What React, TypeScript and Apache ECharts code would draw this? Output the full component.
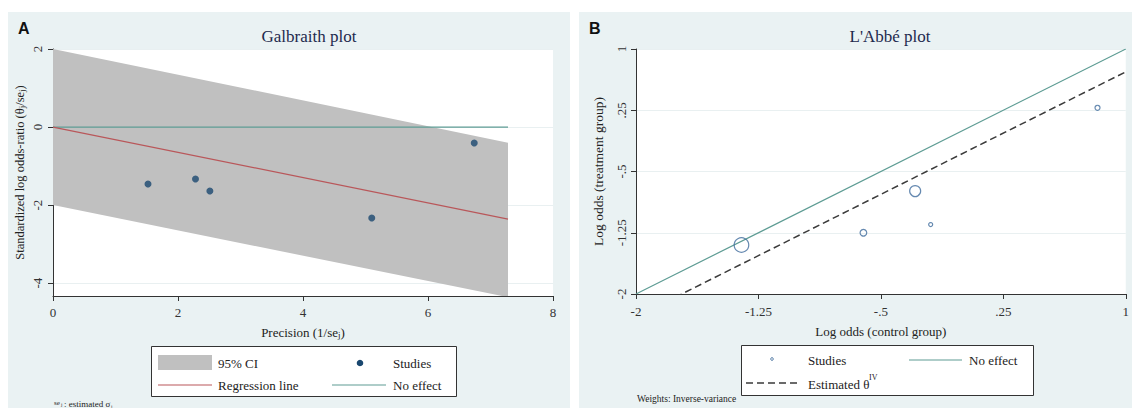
import React, { useEffect, useRef } from "react";
import * as echarts from "echarts";

// ---------- Galbraith plot data ----------
const galPrecision = [1.52, 2.28, 2.51, 5.1, 6.74];
const galStdLogOR = [-1.46, -1.33, -1.64, -2.33, -0.41];
const regLineX = [0, 7.28];
const regLineY = [0, -2.36];
const ciUpper = [2, -0.4];
const ciLower = [-2, -4.36];
const galNoEffectY = [0, 0];
const galYTicks = [-4, -2, 0, 2];

// ---------- L'Abbé plot data ----------
const controlLogOdds = [-1.354, -0.607, -0.29, -0.195, 0.827];
const treatLogOdds = [-1.4, -1.25, -0.74, -1.15, 0.28];
const studyWeights = [50.8, 10.6, 28.8, 3.8, 6.0];
const labbeLineX = [-2, 1];
const noEffectY = [-2, 1];
const estimatedY = [-2.28, 0.72];
const labbeTicks = [-2, -1.25, -0.5, 0.25, 1];

const SERIF = '"Liberation Serif", "DejaVu Serif", serif';
const SANS = '"Liberation Sans", Arial, sans-serif';
const NAVY = "#1a476f";
const TEAL = "#5e9c94";
const RED = "#b9575a";
const GRAYCI = "#c0c0c0";
const BG = "#eaf2f3";
const GRID = "#e9f0f1";

const stataFmt = (v: number) => {
  if (v === 0) return "0";
  let s = String(Math.round(v * 1000) / 1000);
  s = s.replace(/^(-?)0\./, "$1.");
  return s;
};

const axisCommon = {
  axisLine: { show: true, onZero: false, lineStyle: { color: "#333", width: 1 } },
  axisTick: { show: true, inside: false, length: 5, lineStyle: { color: "#333" } },
  splitLine: { show: false },
  nameLocation: "middle" as const,
};

export default function App() {
  const ref = useRef<HTMLDivElement>(null);
  useEffect(() => {
    if (!ref.current) return;
    const chart = echarts.init(ref.current, undefined, { renderer: "svg" });
    const labelStyle = { fontFamily: SERIF, fontSize: 13, color: "#333" };
    const nameStyle = {
      fontFamily: SERIF,
      fontSize: 13,
      color: "#222",
      rich: { sub: { fontFamily: SERIF, fontSize: 9, color: "#222", verticalAlign: "bottom", padding: [4, 0, 0, 0] } },
    };
    const gridSplit = { show: true, lineStyle: { color: GRID, width: 1 } };
    const option: any = {
      animation: false,
      backgroundColor: "#fff",
      title: [
        { text: "Galbraith plot", left: 304, top: 23, textAlign: "center", textStyle: { fontFamily: SERIF, fontSize: 17, fontWeight: "normal", color: "#1e2a4e" } },
        { text: "L'Abbé plot", left: 885, top: 23, textAlign: "center", textStyle: { fontFamily: SERIF, fontSize: 17, fontWeight: "normal", color: "#1e2a4e" } },
      ],
      grid: [
        { left: 53, top: 49, width: 500, height: 247, show: true, backgroundColor: "#fff", borderWidth: 0 },
        { left: 636, top: 49, width: 501, height: 245, show: true, backgroundColor: "#fff", borderWidth: 0 },
      ],
      xAxis: [
        {
          ...axisCommon,
          type: "value",
          gridIndex: 0,
          min: 0,
          max: 8,
          interval: 2,
          axisLabel: { ...labelStyle, margin: 10, formatter: stataFmt },
          name: "Precision (1/se{sub|j})",
          nameGap: 30,
          nameTextStyle: nameStyle,
        },
        {
          ...axisCommon,
          type: "value",
          gridIndex: 1,
          min: -2,
          max: 1,
          axisLabel: { ...labelStyle, margin: 11, formatter: stataFmt, customValues: labbeTicks },
          axisTick: { ...axisCommon.axisTick, customValues: labbeTicks },
          name: "Log odds (control group)",
          nameGap: 31,
          nameTextStyle: { ...nameStyle, fontSize: 13 },
        },
      ],
      yAxis: [
        {
          ...axisCommon,
          type: "value",
          gridIndex: 0,
          min: -4.33,
          max: 2,
          axisLabel: { ...labelStyle, margin: 9, rotate: 90, formatter: stataFmt, customValues: galYTicks },
          axisTick: { ...axisCommon.axisTick, customValues: galYTicks },
          splitLine: gridSplit,
          name: "Standardized log odds-ratio (θ{sub|j}/se{sub|j})",
          nameGap: 27,
          nameRotate: 90,
          nameTextStyle: { ...nameStyle, fontSize: 12.5 },
        },
        {
          ...axisCommon,
          type: "value",
          gridIndex: 1,
          min: -2,
          max: 1,
          axisLabel: { ...labelStyle, margin: 8, rotate: 90, formatter: stataFmt, customValues: labbeTicks },
          axisTick: { ...axisCommon.axisTick, customValues: labbeTicks },
          splitLine: gridSplit,
          name: "Log odds (treatment group)",
          nameGap: 31,
          nameRotate: 90,
          nameTextStyle: { ...nameStyle, fontSize: 13.5 },
        },
      ],
      series: [
        // CI band
        {
          type: "custom",
          xAxisIndex: 0,
          yAxisIndex: 0,
          clip: true,
          z: 2,
          silent: true,
          data: regLineX.map((x, i) => [x, ciLower[i], ciUpper[i]]),
          encode: { x: 0, y: [1, 2] },
          renderItem: (params: any, api: any) => {
            if (params.dataIndex !== 0) return null;
            const up = regLineX.map((x, i) => api.coord([x, ciUpper[i]]));
            const lo = regLineX.map((x, i) => api.coord([x, ciLower[i]])).reverse();
            return { type: "polygon", shape: { points: [...up, ...lo] }, style: { fill: GRAYCI } };
          },
        },
        {
          name: "No effect",
          type: "line",
          xAxisIndex: 0,
          yAxisIndex: 0,
          data: regLineX.map((x, i) => [x, galNoEffectY[i]]),
          symbol: "none",
          lineStyle: { color: TEAL, width: 1.2 },
          z: 3,
        },
        {
          name: "Regression line",
          type: "line",
          xAxisIndex: 0,
          yAxisIndex: 0,
          data: regLineX.map((x, i) => [x, regLineY[i]]),
          symbol: "none",
          lineStyle: { color: RED, width: 1.2 },
          z: 3,
        },
        {
          name: "Studies",
          type: "scatter",
          xAxisIndex: 0,
          yAxisIndex: 0,
          data: galPrecision.map((x, i) => [x, galStdLogOR[i]]),
          symbol: "circle",
          symbolSize: 7,
          itemStyle: { color: NAVY },
          z: 4,
        },
        {
          name: "No effect",
          type: "line",
          xAxisIndex: 1,
          yAxisIndex: 1,
          data: labbeLineX.map((x, i) => [x, noEffectY[i]]),
          symbol: "none",
          lineStyle: { color: TEAL, width: 1.2 },
          z: 3,
        },
        {
          name: "Estimated θIV",
          type: "line",
          xAxisIndex: 1,
          yAxisIndex: 1,
          data: labbeLineX.map((x, i) => [x, estimatedY[i]]),
          symbol: "none",
          lineStyle: { color: "#3a3a3a", width: 1.5, type: [7, 4] },
          z: 3,
        },
        {
          name: "Studies",
          type: "scatter",
          xAxisIndex: 1,
          yAxisIndex: 1,
          data: controlLogOdds.map((x, i) => [x, treatLogOdds[i], studyWeights[i]]),
          symbol: "circle",
          symbolSize: (d: number[]) => 2.05 * Math.sqrt(d[2]),
          itemStyle: { color: "rgba(0,0,0,0)", borderColor: "#3f6c9c", borderWidth: 1.2 },
          z: 4,
        },
      ],
      graphic: [
        { type: "rect", z: -100, silent: true, shape: { x: 8, y: 12, width: 562, height: 396 }, style: { fill: BG } },
        { type: "rect", z: -100, silent: true, shape: { x: 579, y: 12, width: 553, height: 396 }, style: { fill: BG } },
        { type: "text", x: 18, y: 20, style: { text: "A", font: `bold 16px ${SANS}`, fill: "#111" } },
        { type: "text", x: 589, y: 20, style: { text: "B", font: `bold 16px ${SANS}`, fill: "#111" } },
        // left legend
        { type: "rect", z: 50, shape: { x: 151.5, y: 346.5, width: 305, height: 50 }, style: { fill: "#fff", stroke: "#333", lineWidth: 1 } },
        { type: "rect", z: 51, shape: { x: 158, y: 355, width: 54, height: 15 }, style: { fill: GRAYCI } },
        { type: "text", z: 51, x: 218, y: 363, style: { text: "95% CI", font: `13px ${SERIF}`, fill: "#222", textVerticalAlign: "middle" } },
        { type: "circle", z: 51, shape: { cx: 360, cy: 363, r: 3.3 }, style: { fill: NAVY } },
        { type: "text", z: 51, x: 393, y: 363, style: { text: "Studies", font: `13px ${SERIF}`, fill: "#222", textVerticalAlign: "middle" } },
        { type: "line", z: 51, shape: { x1: 158, y1: 385, x2: 212, y2: 385 }, style: { stroke: RED, lineWidth: 1.2 } },
        { type: "text", z: 51, x: 218, y: 385, style: { text: "Regression line", font: `13px ${SERIF}`, fill: "#222", textVerticalAlign: "middle" } },
        { type: "line", z: 51, shape: { x1: 332, y1: 385, x2: 386, y2: 385 }, style: { stroke: TEAL, lineWidth: 1.2 } },
        { type: "text", z: 51, x: 393, y: 385, style: { text: "No effect", font: `13px ${SERIF}`, fill: "#222", textVerticalAlign: "middle" } },
        { type: "text", z: 51, x: 54, y: 399, style: { text: "se", font: `7px ${SERIF}`, fill: "#222" } },
        { type: "text", z: 51, x: 61, y: 402, style: { text: "j", font: `5px ${SERIF}`, fill: "#222" } },
        { type: "text", z: 51, x: 64, y: 399, style: { text: ": estimated σ", font: `9px ${SERIF}`, fill: "#222" } },
        { type: "text", z: 51, x: 111, y: 404, style: { text: "j", font: `5px ${SERIF}`, fill: "#222" } },
        // right legend
        { type: "rect", z: 50, shape: { x: 741.5, y: 345.5, width: 292, height: 50 }, style: { fill: "#fff", stroke: "#333", lineWidth: 1 } },
        { type: "circle", z: 51, shape: { cx: 772, cy: 359, r: 1.3 }, style: { fill: "none", stroke: "#3f6c9c", lineWidth: 1 } },
        { type: "text", z: 51, x: 808, y: 360, style: { text: "Studies", font: `13px ${SERIF}`, fill: "#222", textVerticalAlign: "middle" } },
        { type: "line", z: 51, shape: { x1: 909, y1: 360, x2: 962, y2: 360 }, style: { stroke: TEAL, lineWidth: 1.2 } },
        { type: "text", z: 51, x: 969, y: 360, style: { text: "No effect", font: `13px ${SERIF}`, fill: "#222", textVerticalAlign: "middle" } },
        { type: "line", z: 51, shape: { x1: 746, y1: 383, x2: 801, y2: 383 }, style: { stroke: "#3a3a3a", lineWidth: 1.5, lineDash: [7, 4] } },
        { type: "text", z: 51, x: 808, y: 384, style: { text: "Estimated θ", font: `13px ${SERIF}`, fill: "#222", textVerticalAlign: "middle" } },
        { type: "text", z: 51, x: 869, y: 373, style: { text: "IV", font: `8px ${SERIF}`, fill: "#222" } },
        { type: "text", z: 51, x: 637, y: 394, style: { text: "Weights: Inverse-variance", font: `9.5px ${SERIF}`, fill: "#222" } },
      ],
    };
    chart.setOption(option);
    return () => chart.dispose();
  }, []);
  return <div ref={ref} style={{ position: "fixed", left: 0, top: 0, width: 1132, height: 408 }} />;
}
